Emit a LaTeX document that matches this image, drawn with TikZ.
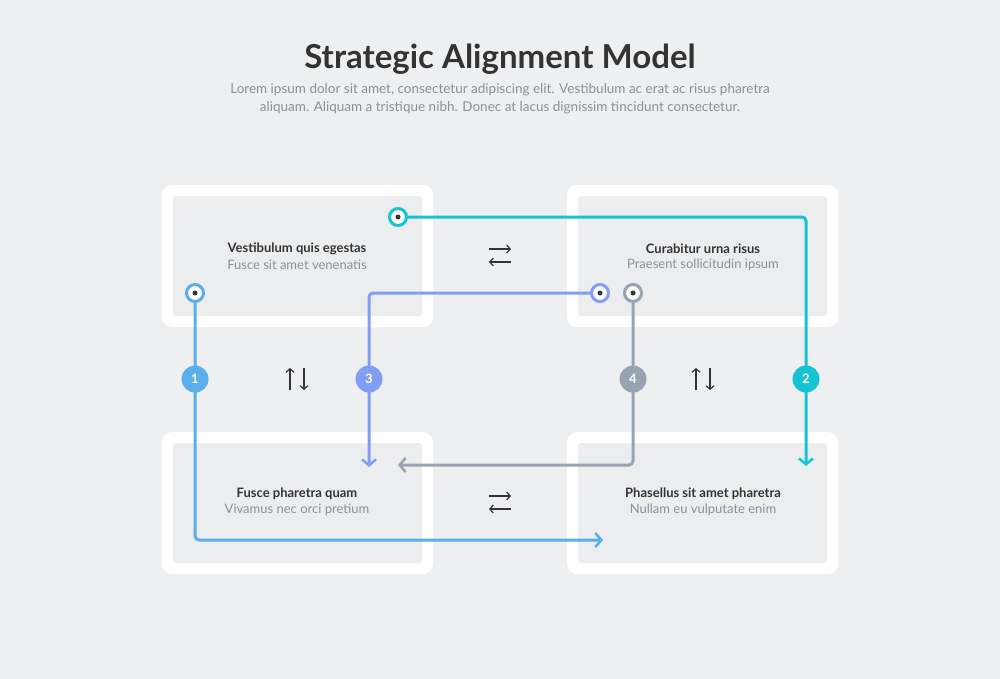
\documentclass[tikz,border=0pt]{standalone}
\usepackage{fontspec}
\setmainfont{Lato}
\usetikzlibrary{arrows.meta}
\definecolor{bg}{HTML}{EEEFF1}
\definecolor{inner}{HTML}{ECEDEF}
\definecolor{cy}{HTML}{16C3D1}
\definecolor{bl}{HTML}{5AAEEA}
\definecolor{pw}{HTML}{829EF4}
\definecolor{gr}{HTML}{98A3B1}
\definecolor{dark}{HTML}{333333}
\definecolor{sub}{HTML}{8A8F99}
\begin{document}
\begin{tikzpicture}[x=1pt,y=-1pt,
  outer/.style={fill=white,rounded corners=10pt},
  innerbox/.style={fill=inner,rounded corners=3pt},
  ln/.style={line width=3pt,rounded corners=4pt},
  tip/.style={-{Straight Barb[length=6pt,width=14pt,line width=2.5pt]}},
  ring/.style={circle,draw=#1,line width=3pt,fill=white,minimum size=17pt,inner sep=0pt},
  badge/.style={circle,fill=#1,minimum size=27pt,inner sep=0pt,text=white,font=\bfseries\fontsize{13}{15}\selectfont},
  hd/.style={font=\bfseries\fontsize{13}{15}\selectfont,text=dark},
  sb/.style={font=\fontsize{13}{15}\selectfont,text=sub},
  sym/.style={font=\fontsize{22}{24}\selectfont,text=dark}]
\fill[bg] (0,0) rectangle (1000,679);
\node[font=\bfseries\fontsize{33}{36}\selectfont,text=dark] (title) at (500,59) {Strategic Alignment Model};
\node[sb,align=center,font=\fontsize{13.5}{18}\selectfont] (desc) at (500,99) {Lorem ipsum dolor sit amet, consectetur adipiscing elit. Vestibulum ac erat ac risus pharetra\\aliquam. Aliquam a tristique nibh. Donec at lacus dignissim tincidunt consectetur.};
\foreach \n/\x/\y in {tl/162/185,tr/567/185,bl/162/432,br/567/432}{
  \fill[outer] (\x,\y) rectangle ++(271,142);
  \fill[innerbox] (\x+11,\y+11) rectangle ++(249,120);
}
\node[hd] (h1) at (297,249) {Vestibulum quis egestas};
\node[sb] (s1) at (297,265) {Fusce sit amet venenatis};
\node[hd] (h2) at (703,249) {Curabitur urna risus};
\node[sb] (s2) at (703,265) {Praesent sollicitudin ipsum};
\node[hd] (h3) at (297,494) {Fusce pharetra quam};
\node[sb] (s3) at (297,510) {Vivamus nec orci pretium};
\node[hd] (h4) at (703,494) {Phasellus sit amet pharetra};
\node[sb] (s4) at (703,510) {Nullam eu vulputate enim};
% connectors
\coordinate (e2) at (806,466);
\coordinate (e1) at (603,540);
\coordinate (e3) at (369,467);
\coordinate (e4) at (398,465);
\node[ring=cy] (r2) at (398,217) {};
\node[ring=bl] (r1) at (195,293) {};
\node[ring=pw] (r3) at (600,293) {};
\node[ring=gr] (r4) at (633,293) {};
\draw[ln,tip,cy] (r2.east) -| (e2);
\draw[ln,tip,bl] (r1.south) |- (e1);
\draw[ln,tip,pw] (r3.west) -| (e3);
\draw[ln,tip,gr] (r4.south) |- (e4);
\foreach \r in {r1,r2,r3,r4}{\fill[dark] (\r) circle (2.5pt);}
\node[badge=bl] (b1) at (195,379) {1};
\node[badge=cy] (b2) at (806,379) {2};
\node[badge=pw] (b3) at (369,379) {3};
\node[badge=gr] (b4) at (633,379) {4};
% symbols
\foreach \n/\x/\y in {x1/500/255,x2/500/502}{
  \draw[dark,line width=1.2pt,-{Straight Barb[length=3.5pt,width=8pt]}] (\x-11,\y-6) -- (\x+11,\y-6);
  \draw[dark,line width=1.2pt,-{Straight Barb[length=3.5pt,width=8pt]}] (\x+11,\y+7) -- (\x-11,\y+7);
}
\foreach \n/\x/\y in {u1/297/379,u2/703/379}{
  \draw[dark,line width=1.2pt,-{Straight Barb[length=3.5pt,width=8pt]}] (\x-7,\y+11) -- (\x-7,\y-11);
  \draw[dark,line width=1.2pt,-{Straight Barb[length=3.5pt,width=8pt]}] (\x+7,\y-11) -- (\x+7,\y+11);
}
\end{tikzpicture}
\end{document}
